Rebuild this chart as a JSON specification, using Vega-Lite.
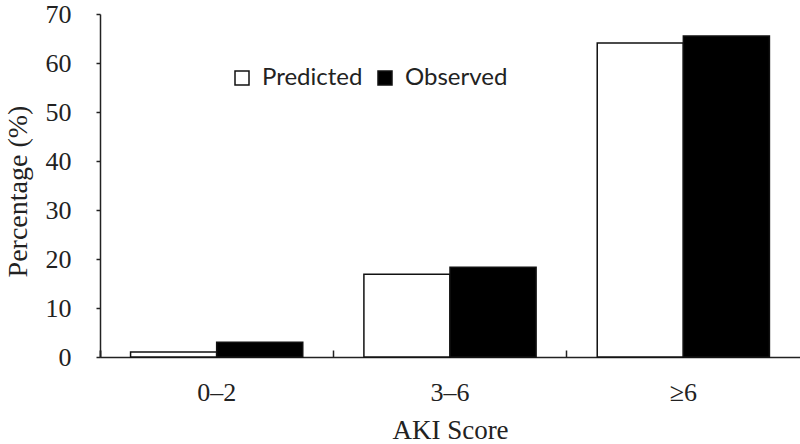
{
  "$schema": "https://vega.github.io/schema/vega-lite/v6.json",
  "autosize": "none",
  "width": 700,
  "height": 343,
  "padding": {"left": 100, "top": 14, "right": 0, "bottom": 87},
  "background": "white",
  "config": {
    "view": {"stroke": null},
    "axis": {"domainColor": "#222", "tickColor": "#222", "labelColor": "#222", "titleColor": "#222", "grid": false, "labelFont": "Liberation Serif", "titleFont": "Liberation Serif", "titleFontWeight": "normal", "domainWidth": 1.5, "tickWidth": 1.5}
  },
  "data": {
    "values": [
      {"score": "0–2", "group": "Predicted", "pct": 1.0},
      {"score": "0–2", "group": "Observed", "pct": 3.0},
      {"score": "3–6", "group": "Predicted", "pct": 16.9},
      {"score": "3–6", "group": "Observed", "pct": 18.3},
      {"score": "≥6", "group": "Predicted", "pct": 64.1},
      {"score": "≥6", "group": "Observed", "pct": 65.5}
    ]
  },
  "mark": {"type": "bar", "stroke": "#111", "strokeWidth": 1.5},
  "encoding": {
    "x": {
      "field": "score", "type": "nominal", "sort": ["0–2", "3–6", "≥6"],
      "scale": {"paddingInner": 0, "paddingOuter": 0},
      "axis": {"title": "AKI Score", "labelAngle": 0, "labelFontSize": 26, "titleFontSize": 27, "bandPosition": 0, "tickExtra": true, "tickSize": -7, "labelPadding": 29, "titleY": 60, "titleBaseline": "top"}
    },
    "xOffset": {"field": "group", "type": "nominal", "sort": ["Predicted", "Observed"], "scale": {"paddingInner": 0, "paddingOuter": 0.355}},
    "y": {
      "field": "pct", "type": "quantitative",
      "scale": {"domain": [0, 70], "nice": false},
      "axis": {"title": "Percentage (%)", "values": [0, 10, 20, 30, 40, 50, 60, 70], "tickSize": 4, "labelPadding": 25, "labelFontSize": 26, "titleFontSize": 28, "titleX": -82, "titleY": 177, "titleBaseline": "middle", "titleAngle": -90}
    },
    "fill": {
      "field": "group", "type": "nominal", "sort": ["Predicted", "Observed"],
      "scale": {"domain": ["Predicted", "Observed"], "range": ["white", "black"]},
      "legend": {"title": null, "orient": "none", "direction": "horizontal", "legendX": 130, "legendY": 52, "symbolType": "square", "symbolSize": 196, "symbolStrokeColor": "#111", "symbolStrokeWidth": 1.5, "labelFont": "Lato", "labelFontSize": 24, "labelColor": "#222", "labelOffset": 8, "columnPadding": 10, "padding": 0}
    }
  }
}
